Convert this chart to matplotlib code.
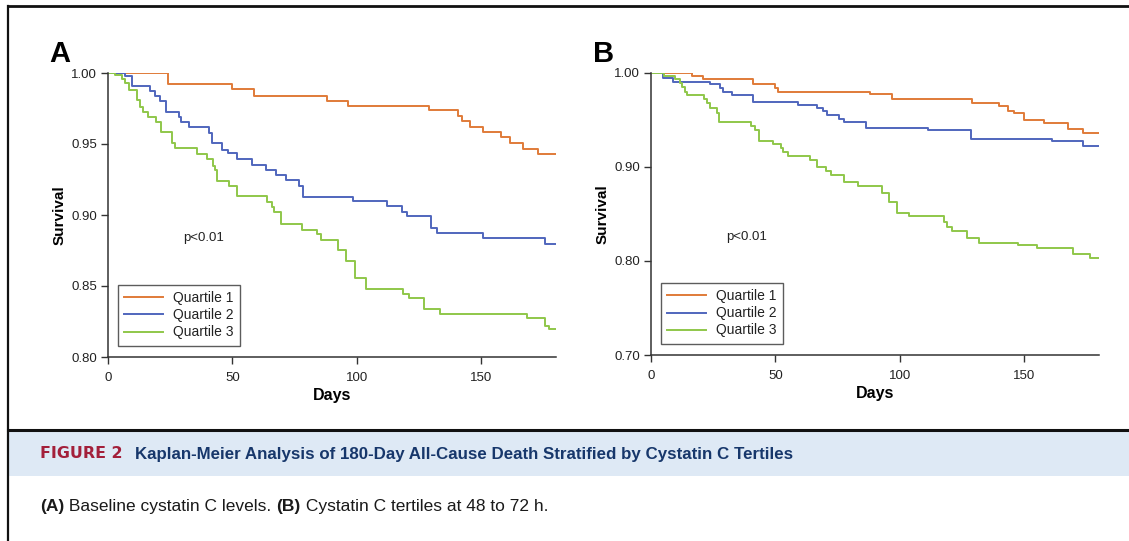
import matplotlib
matplotlib.use("Agg")
import matplotlib.pyplot as plt
from matplotlib.lines import Line2D
from matplotlib.patches import Rectangle

plt.rcParams['font.family'] = ['Liberation Sans', 'DejaVu Sans']

# ---------------- data ----------------
series_names = ["Quartile 1", "Quartile 2", "Quartile 3"]
series_colors = ["#e07b39", "#5066bd", "#8fc74a"]

# Panel A: baseline cystatin C
a_q1_days = [0, 24.2, 49.7, 58.6, 87.8, 96.5, 129.0, 140.7, 142.4, 145.4, 150.7,
             157.8, 161.7, 166.8, 172.6, 180]
a_q1_surv = [1.000, 0.992, 0.989, 0.984, 0.9805, 0.977, 0.974, 0.970, 0.966, 0.962,
             0.9587, 0.955, 0.951, 0.9465, 0.943, 0.943]

a_q2_days = [0, 6.8, 9.5, 16.9, 18.9, 20.9, 23.2, 28.5, 29.2, 32.7, 40.7, 41.6, 45.7,
             48.3, 51.7, 57.7, 63.5, 67.5, 71.5, 76.8, 78.2, 98.3, 112.2, 118.3,
             120.2, 129.7, 132.2, 150.5, 175.5, 180]
a_q2_surv = [1.000, 0.998, 0.991, 0.9875, 0.984, 0.980, 0.9725, 0.969, 0.9655, 0.962,
             0.9575, 0.951, 0.946, 0.9434, 0.9397, 0.935, 0.9317, 0.928, 0.925, 0.9204,
             0.913, 0.910, 0.9066, 0.9023, 0.8993, 0.891, 0.887, 0.8836, 0.8796, 0.8796]

a_q3_days = [0, 2.8, 5.5, 6.8, 8.6, 11.5, 12.9, 13.9, 16.2, 19.3, 21.3, 25.6, 26.9,
             35.9, 39.6, 42.3, 43.0, 43.6, 48.7, 51.9, 63.7, 65.7, 66.7, 69.7, 77.8,
             83.8, 85.4, 92.5, 95.8, 99.2, 103.6, 118.6, 121.0, 126.9, 133.3, 168.5,
             175.5, 177.2, 180]
a_q3_surv = [1.000, 0.9986, 0.9955, 0.9927, 0.988, 0.981, 0.9763, 0.9728, 0.9688,
             0.9655, 0.9587, 0.9505, 0.947, 0.9427, 0.9397, 0.9345, 0.9317, 0.9242,
             0.9204, 0.9134, 0.9094, 0.9059, 0.902, 0.894, 0.8894, 0.8866, 0.8824,
             0.8753, 0.8678, 0.8558, 0.848, 0.8444, 0.8413, 0.8338, 0.830, 0.8272,
             0.822, 0.8195, 0.8195]

# Panel B: cystatin C tertiles at 48 to 72 h
b_q1_days = [0, 16.3, 21.0, 40.8, 49.8, 50.9, 88.0, 96.7, 128.8, 139.9, 143.3, 145.8,
             149.9, 157.8, 167.6, 173.4, 180]
b_q1_surv = [1.000, 0.997, 0.9933, 0.9883, 0.984, 0.980, 0.9773, 0.9723, 0.9684,
             0.9649, 0.960, 0.957, 0.950, 0.9465, 0.9404, 0.9365, 0.9365]

b_q2_days = [0, 4.9, 9.0, 23.7, 27.7, 28.8, 32.4, 40.8, 59.2, 66.8, 69.0, 70.8, 75.6,
             77.5, 86.3, 111.4, 128.5, 161.3, 173.6, 180]
b_q2_surv = [1.000, 0.9943, 0.9908, 0.9883, 0.9837, 0.9794, 0.9766, 0.9695, 0.966,
             0.9624, 0.9596, 0.9553, 0.951, 0.9475, 0.9418, 0.9394, 0.9301, 0.9273,
             0.9223, 0.9223]

b_q3_days = [0, 5.2, 9.6, 11.6, 12.3, 13.7, 14.3, 21.4, 22.4, 23.7, 26.6, 27.3, 40.2,
             41.8, 43.5, 49.1, 52.2, 53.1, 55.1, 63.9, 66.5, 70.3, 72.3, 77.5, 83.0,
             93.0, 95.7, 98.7, 103.7, 117.7, 119.0, 120.8, 127.0, 131.7, 147.3, 155.1,
             169.4, 176.3, 180]
b_q3_surv = [1.000, 0.9968, 0.9933, 0.9897, 0.9855, 0.980, 0.9766, 0.972, 0.9677,
             0.9624, 0.957, 0.9482, 0.944, 0.9394, 0.928, 0.9245, 0.9199, 0.9163,
             0.9117, 0.9074, 0.8996, 0.896, 0.8915, 0.8844, 0.8798, 0.872, 0.8631,
             0.8514, 0.8479, 0.8418, 0.8365, 0.8322, 0.8241, 0.8195, 0.8167, 0.8135,
             0.8074, 0.8029, 0.8029]

a_yticks = [0.80, 0.85, 0.90, 0.95, 1.00]
b_yticks = [0.70, 0.80, 0.90, 1.00]
x_ticks = [0, 50, 100, 150]
p_text = "p<0.01"

caption_label = "FIGURE 2"
caption_title = "Kaplan-Meier Analysis of 180-Day All-Cause Death Stratified by Cystatin C Tertiles"
note_parts = [("(A)", "bold"), (" Baseline cystatin C levels. ", "normal"),
              ("(B)", "bold"), (" Cystatin C tertiles at 48 to 72 h.", "normal")]

W, H = 1129, 541
fig = plt.figure(figsize=(W / 100, H / 100), dpi=100)
renderer = fig.canvas.get_renderer()


def fx(px):
    return px / W


def fy(py):
    return 1 - py / H


def km_panel(rect, curves, yticks, ylim, letter):
    ax = fig.add_axes(rect)
    for (days, surv), name, col in zip(curves, series_names, series_colors):
        ax.step(days, surv, where="post", color=col, lw=1.4, label=name)
    ax.set_xlim(0, 180)
    ax.set_ylim(*ylim)
    ax.set_xticks(x_ticks)
    ax.set_yticks(yticks)
    ax.set_yticklabels(["%.2f" % v for v in yticks])
    for s in ["top", "right"]:
        ax.spines[s].set_visible(False)
    for s in ["left", "bottom"]:
        ax.spines[s].set_color("#333333")
        ax.spines[s].set_linewidth(1.1)
    ax.tick_params(direction="out", length=5, width=1, color="#333333",
                   labelsize=9.5, labelcolor="#222222")
    ax.tick_params(axis="x", pad=6)
    ax.tick_params(axis="y", pad=3)
    ax.set_xlabel("Days", fontsize=11.5, fontweight="bold", labelpad=3)
    ax.set_ylabel("Survival", fontsize=11, fontweight="bold", labelpad=3)
    ax.text(0.167, 0.42, p_text, transform=ax.transAxes, fontsize=9.5,
            color="#222222", va="center")
    leg = ax.legend(loc="lower left", bbox_to_anchor=(0.022, 0.04),
                    fontsize=10, frameon=True, fancybox=False,
                    edgecolor="#333333", handlelength=2.8,
                    handletextpad=0.7, borderpad=0.45,
                    labelspacing=0.22, borderaxespad=0)
    leg.get_frame().set_linewidth(1.0)
    for t in leg.get_texts():
        t.set_color("#222222")
    top_h = rect[3] * H
    ax.text(-0.13, 1 + 11 / top_h, letter, transform=ax.transAxes, fontsize=21,
            fontweight="bold", va="baseline", ha="left")
    return ax


km_panel([fx(108), fy(357), fx(448), (357 - 73) / H],
         [(a_q1_days, a_q1_surv), (a_q2_days, a_q2_surv), (a_q3_days, a_q3_surv)],
         a_yticks, (0.80, 1.00), "A")
km_panel([fx(651), fy(355), fx(448), (355 - 73) / H],
         [(b_q1_days, b_q1_surv), (b_q2_days, b_q2_surv), (b_q3_days, b_q3_surv)],
         b_yticks, (0.70, 1.00), "B")

# frame lines and caption band
fig.add_artist(Rectangle((fx(8), fy(476)), 1 - fx(8), (476 - 431) / H,
                         transform=fig.transFigure, facecolor="#dee9f5", edgecolor="none"))
fig.add_artist(Line2D([fx(8), 1], [fy(6), fy(6)], color="#111111", lw=2))
fig.add_artist(Line2D([fx(8), fx(8)], [fy(6), 0], color="#111111", lw=1.6))
fig.add_artist(Line2D([fx(8), 1], [fy(430), fy(430)], color="#111111", lw=2.2))


def fit_text(x_px, y_px, s, width_px, **kw):
    # place text and scale its size so it spans roughly width_px
    t = fig.text(x_px / W, fy(y_px), s, va="center", ha="left", **kw)
    w = t.get_window_extent(renderer).width
    t.set_fontsize(t.get_fontsize() * width_px / w)
    return t


fit_text(40, 454, caption_label, 82, fontsize=11, fontweight="bold",
         color="#a31f3a", family=['DejaVu Sans'])
fit_text(135, 454, caption_title, 651, fontsize=12, fontweight="bold",
         color="#17376b")

# note line: measure at 11pt, then rescale so it spans about 505 px
base = 11
widths = []
for txt, wt in note_parts:
    t = fig.text(0, 0, txt, fontsize=base, fontweight=wt)
    widths.append(t.get_window_extent(renderer).width)
    t.remove()
size = base * 505 / sum(widths)
x_cur = 40
for txt, wt in note_parts:
    t = fig.text(x_cur / W, fy(507), txt, fontsize=size, fontweight=wt,
                 color="#1a1a1a", va="center", ha="left")
    x_cur = t.get_window_extent(renderer).x1

fig.savefig("out.png", dpi=100)
